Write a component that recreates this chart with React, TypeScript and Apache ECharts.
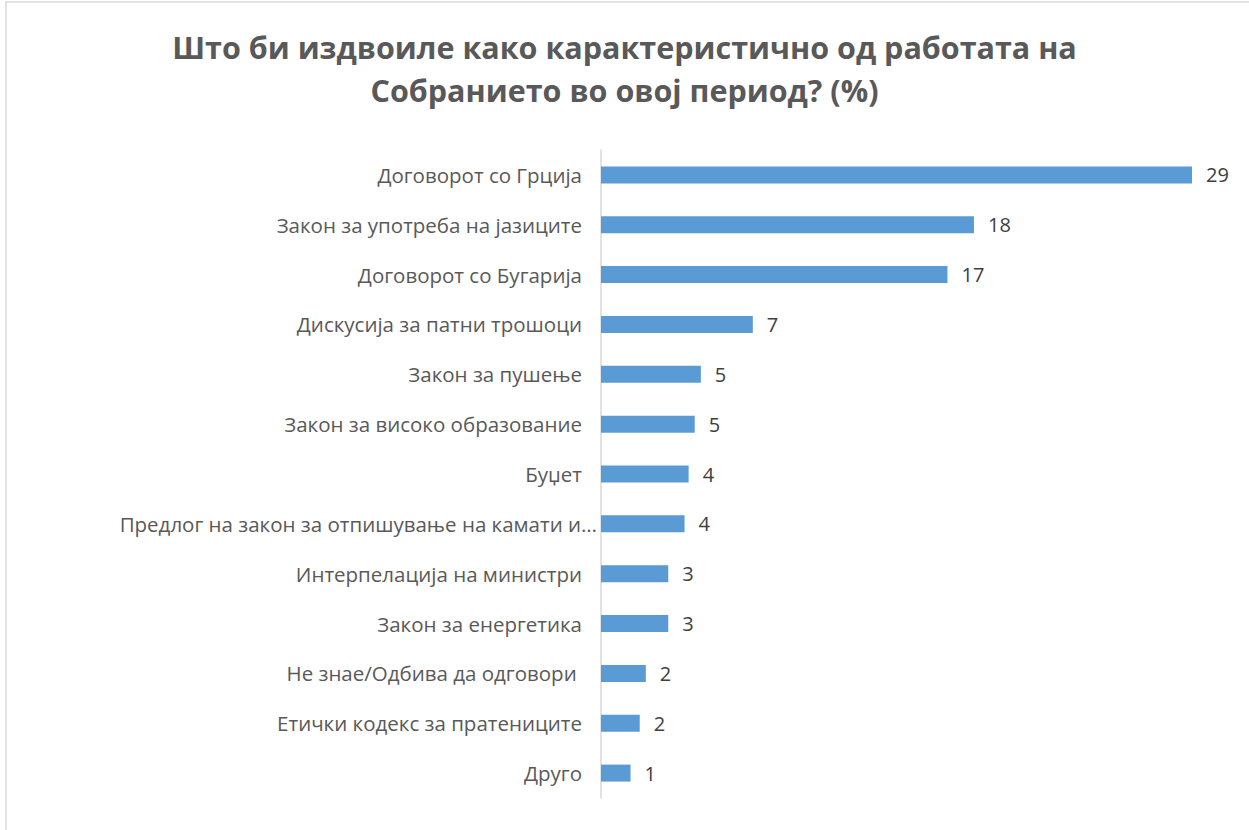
import React, { useEffect, useRef } from "react";
import * as echarts from "echarts";

const TITLE = "Што би издвоиле како карактеристично од работата на\nСобранието во овој период? (%)";

const categories = [
  "Договорот со Грција",
  "Закон за употреба на јазиците",
  "Договорот со Бугарија",
  "Дискусија за патни трошоци",
  "Закон за пушење",
  "Закон за високо образование",
  "Буџет",
  "Предлог на закон за отпишување на камати и…",
  "Интерпелација на министри",
  "Закон за енергетика",
  "Не знае/Одбива да одговори ",
  "Етички кодекс за пратениците",
  "Друго",
];

const values = [29.0, 18.3, 17.0, 7.45, 4.9, 4.6, 4.3, 4.1, 3.3, 3.3, 2.2, 1.9, 1.45];

const FONT = "'Open Sans', 'Noto Sans', sans-serif";

export default function App() {
  const ref = useRef<HTMLDivElement>(null);
  useEffect(() => {
    if (!ref.current) return;
    const chart = echarts.init(ref.current, null, { renderer: "svg" });
    chart.setOption({
      animation: false,
      backgroundColor: "#ffffff",
      title: {
        text: TITLE,
        left: "center",
        top: 20,
        textStyle: {
          fontFamily: FONT,
          fontWeight: "bold",
          fontSize: 30.5,
          color: "#595959",
          lineHeight: 43,
        },
      },
      graphic: [
        {
          type: "rect",
          shape: { x: 6, y: 2, width: 1400, height: 1000 },
          style: { fill: "none", stroke: "#d9d9d9", lineWidth: 1.5 },
          silent: true,
        },
      ],
      grid: { left: 601, right: 57, top: 150, bottom: 32 },
      xAxis: {
        type: "value",
        min: 0,
        max: 29,
        show: false,
      },
      yAxis: {
        type: "category",
        inverse: true,
        data: categories.map((c, i) =>
          i === 7 ? { value: c, textStyle: { padding: [0, -15, 0, 0] } } : c
        ),
        axisLine: { show: true, lineStyle: { color: "#d9d9d9", width: 1.5 } },
        axisTick: { show: false },
        axisLabel: {
          margin: 19,
          fontFamily: FONT,
          fontSize: 20.5,
          color: "#595959",
        },
      },
      series: [
        {
          type: "bar",
          data: values,
          barWidth: 17,
          itemStyle: { color: "#5b9bd5" },
          label: {
            show: true,
            position: "right",
            distance: 14,
            fontFamily: FONT,
            fontSize: 20,
            color: "#404040",
            formatter: (p: any) => String(Math.round(p.value)),
          },
        },
      ],
    });
    return () => chart.dispose();
  }, []);
  return (
    <div
      ref={ref}
      style={{ position: "fixed", left: 0, top: 0, width: 1249, height: 830 }}
    />
  );
}
